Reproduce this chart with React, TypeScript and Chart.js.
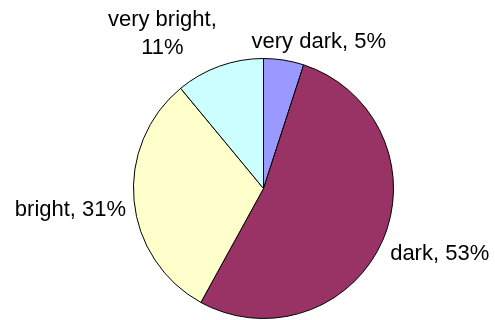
import React, { useEffect, useRef } from "react";
import { Chart, registerables } from "chart.js";

Chart.register(...registerables);

const categories = ["very dark", "dark", "bright", "very bright"];
const values = [5, 53, 31, 11];
const sliceColors = ["#9999FF", "#993366", "#FFFFCC", "#CCFFFF"];

const FONT_SIZE = 22;
const FONT = `${FONT_SIZE}px "Liberation Sans", Arial, sans-serif`;
const LINE_HEIGHT = 28;
const MAX_LABEL_WIDTH = 140;

const outsideLabels = {
  id: "outsideLabels",
  afterDatasetsDraw(chart: any) {
    const ctx = chart.ctx as CanvasRenderingContext2D;
    const meta = chart.getDatasetMeta(0);
    const data = chart.data.datasets[0].data as number[];
    const total = data.reduce((a, b) => a + b, 0);
    ctx.save();
    ctx.font = FONT;
    ctx.fillStyle = "#000";
    ctx.textAlign = "center";
    ctx.textBaseline = "alphabetic";
    meta.data.forEach((arc: any, i: number) => {
      const { x, y, startAngle, endAngle, outerRadius } = arc.getProps(
        ["x", "y", "startAngle", "endAngle", "outerRadius"],
        true
      );
      const mid = (startAngle + endAngle) / 2;
      const dx = Math.cos(mid);
      const dy = Math.sin(mid);
      const pct = Math.round((data[i] / total) * 100);
      const full = `${chart.data.labels[i]}, ${pct}%`;
      let lines = [full];
      if (ctx.measureText(full).width > MAX_LABEL_WIDTH) {
        lines = [`${chart.data.labels[i]},`, `${pct}%`];
      }
      const w = Math.max(...lines.map((l) => ctx.measureText(l).width));
      const h = lines.length === 1 ? 25 : lines.length * LINE_HEIGHT;
      const gap = 8;
      const ax = x + (outerRadius + gap) * dx;
      const ay = y + (outerRadius + gap) * dy;
      const fx = Math.max(-1, Math.min(1, dx * 3.2));
      const cx = ax + (w / 2) * fx;
      const cy = ay + (h / 2) * dy + 6 * (1 - Math.abs(dy));
      lines.forEach((line, li) => {
        const ly = cy + (li - (lines.length - 1) / 2) * LINE_HEIGHT;
        ctx.fillText(line, cx, ly + 0.35 * FONT_SIZE);
      });
    });
    ctx.restore();
  },
};

export default function App() {
  const ref = useRef<HTMLCanvasElement>(null);
  useEffect(() => {
    if (!ref.current) return;
    const chart = new Chart(ref.current, {
      type: "pie",
      data: {
        labels: categories,
        datasets: [
          {
            data: values,
            backgroundColor: sliceColors,
            borderColor: "#000000",
            borderWidth: 1,
          },
        ],
      },
      options: {
        animation: false,
        responsive: false,
        maintainAspectRatio: false,
        layout: { padding: { top: 58, bottom: 1, left: 133, right: 101 } },
        plugins: {
          legend: { display: false },
          tooltip: { enabled: false },
        },
      },
      plugins: [outsideLabels],
    });
    return () => chart.destroy();
  }, []);
  return (
    <div style={{ position: "fixed", left: 0, top: 0, width: 495, height: 320, background: "#fff" }}>
      <canvas ref={ref} width={495} height={320} style={{ width: 495, height: 320, display: "block" }} />
    </div>
  );
}
